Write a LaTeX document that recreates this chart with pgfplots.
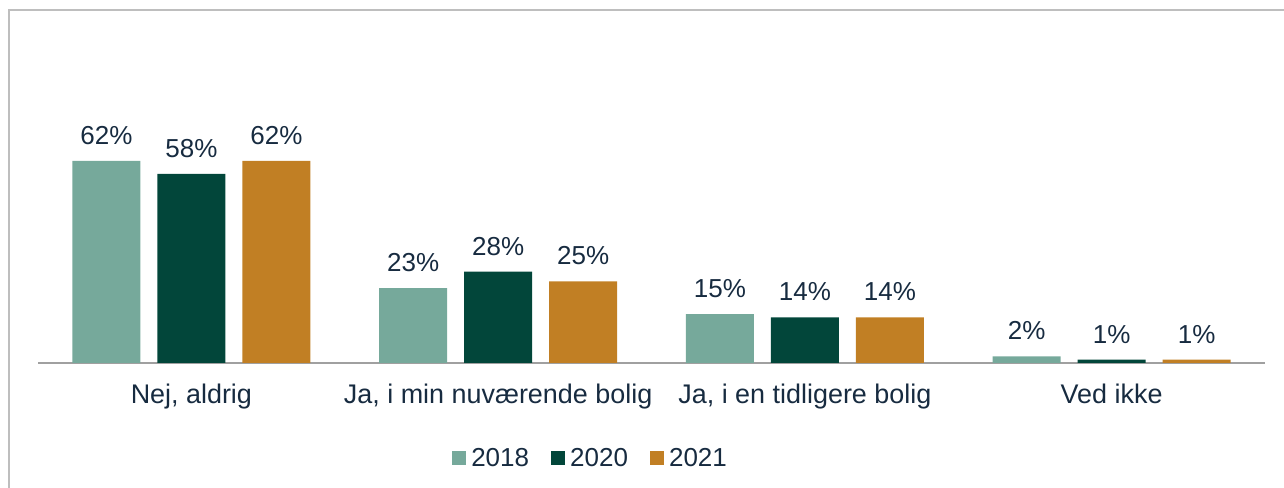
\documentclass[border=0pt]{standalone}
\usepackage{fontspec}
\setmainfont{Liberation Sans}
\usepackage{pgfplots}
\pgfplotsset{compat=1.18}
\definecolor{cA}{RGB}{118,169,155}
\definecolor{cB}{RGB}{2,70,58}
\definecolor{cC}{RGB}{193,127,36}
\definecolor{txt}{RGB}{23,43,64}
\definecolor{axg}{RGB}{160,160,160}
\definecolor{frameg}{RGB}{190,190,190}
\newcommand{\lf}{\fontsize{19.5}{23}\selectfont}
\newcommand{\tf}{\fontsize{20.2}{24}\selectfont}
\begin{document}
\begin{tikzpicture}
\path[use as bounding box] (0pt,0pt) rectangle (963pt,366pt);
\draw[frameg, line width=1pt] (6.75pt,0pt) -- (6.75pt,358.5pt) -- (963pt,358.5pt);
\begin{axis}[
  at={(28.5pt,93.75pt)}, anchor=south west,
  scale only axis, width=920.25pt, height=171.15pt,
  xmin=-0.5, xmax=3.5, ymin=0, ymax=70,
  ybar=12.75pt, bar width=51pt,
  axis x line*=bottom, axis y line=none,
  axis line style={axg, line width=1.2pt, -},
  xtick={0,1,2,3},
  xticklabels={{Nej, aldrig},{Ja, i min nuværende bolig},{Ja, i en tidligere bolig},{Ved ikke}},
  major tick length=0pt,
  ytick=\empty,
  /pgf/number format/assume math mode=true,
  xticklabel style={font=\tf, text=txt, anchor=base, inner sep=0pt, yshift=-30.75pt},
  nodes near coords={\pgfmathprintnumber{\pgfplotspointmeta}\%},
  every node near coord/.append style={font=\lf, text=txt, anchor=base, inner sep=0pt, yshift=12.4pt},
  clip=false,
  legend columns=3,
  legend image code/.code={\fill[#1] (0pt,-5.25pt) rectangle (10.5pt,5.25pt);},
  legend style={draw=none, fill=none, at={(axis description cs:0.4505,-0.416)}, anchor=center,
    font=\lf, text=txt, /tikz/every even column/.append style={column sep=14.3pt},
    /tikz/every odd column/.append style={column sep=2pt}},
]
\addplot[fill=cA, draw=none] coordinates {(0,62) (1,23) (2,15) (3,2)};
\addplot[fill=cB, draw=none] coordinates {(0,58) (1,28) (2,14) (3,1)};
\addplot[fill=cC, draw=none] coordinates {(0,62) (1,25) (2,14) (3,1)};
\legend{2018,2020,2021}
\end{axis}
\end{tikzpicture}
\end{document}
